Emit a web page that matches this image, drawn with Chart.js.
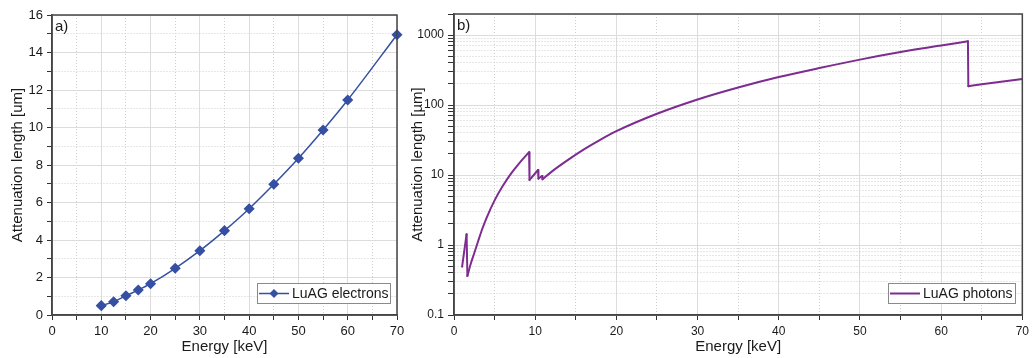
<!DOCTYPE html>
<html>
<head>
<meta charset="utf-8">
<script src="https://cdn.jsdelivr.net/npm/chart.js@4.4.0/dist/chart.umd.min.js"></script>
<style>
  html, body { margin: 0; padding: 0; background: #fff; }
  #wrap { position: relative; width: 1033px; height: 358px; overflow: hidden; }
  canvas { position: absolute; top: 0; }
  #left { left: 0; }
  #right { left: 400px; }
</style>
</head>
<body>
<div id="wrap">
  <canvas id="left" width="410" height="358"></canvas>
  <canvas id="right" width="633" height="358"></canvas>
</div>
<script>
// a) electrons
const electronEnergy = [10, 12.5, 15, 17.5, 20, 25, 30, 35, 40, 45, 50, 55, 60, 70];
const electronLength = [0.50, 0.71, 1.03, 1.33, 1.67, 2.49, 3.43, 4.50, 5.67, 6.97, 8.36, 9.87, 11.47, 14.95];

// b) photons (edges: Al K, Lu L3/L2/L1, Lu K)
const photonEnergy = [1.0, 1.55, 1.65, 2.0, 2.5, 3.0, 3.5, 4.0, 5.0, 6.0, 7.0, 8.0, 9.25, 9.3,
  10.35, 10.4, 10.85, 10.9, 12, 14, 16, 18, 20, 25, 30, 35, 40, 45, 50, 55, 60, 63.3, 63.35, 65, 70];
const photonLength = [0.49, 1.43, 0.36, 0.51, 0.77, 1.16, 1.72, 2.43, 4.35, 6.95, 10.4, 14.6, 21.2, 8.5,
  11.8, 8.9, 9.7, 8.7, 11.1, 16.3, 23.2, 31.8, 42.3, 75, 120, 178, 251, 338, 446, 571, 711, 815, 186, 198, 236];

const energyTicks = [0, 10, 20, 30, 40, 50, 60, 70];
const electronTicks = [0, 2, 4, 6, 8, 10, 12, 14, 16];
const photonTicks = [0.1, 1, 10, 100, 1000];

const FONT = '"Liberation Sans", Arial, sans-serif';
const TEXT = '#1a1a1a';
const MAJOR = '#dcdcdc', MINOR = '#cfcfcf';
const PURPLE = '#7d2c8f', BLUE = '#3550a3';

const isDecade = v => Math.abs(Math.log10(v) - Math.round(Math.log10(v))) < 1e-6;

// split the photon curve into smooth rising branches and straight edge drops
function photonDatasets() {
  const pts = photonEnergy.map((e, i) => ({ x: e, y: photonLength[i] }));
  const sets = [];
  let run = [pts[0]];
  for (let i = 1; i < pts.length; i++) {
    if (pts[i].y >= pts[i - 1].y) {
      run.push(pts[i]);
    } else {
      sets.push({ data: run, cubicInterpolationMode: 'monotone' });
      sets.push({ data: [pts[i - 1], pts[i]], tension: 0 });
      run = [pts[i]];
    }
  }
  sets.push({ data: run, cubicInterpolationMode: 'monotone' });
  return sets.map((s, i) => Object.assign({
    label: i === 0 ? 'LuAG photons' : '',
    borderColor: PURPLE, backgroundColor: PURPLE,
    pointRadius: 0, borderWidth: 2,
    borderCapStyle: 'round', borderJoinStyle: 'round'
  }, s));
}

function diamond(ctx, x, y, r) {
  ctx.beginPath();
  ctx.moveTo(x, y - r); ctx.lineTo(x + r, y); ctx.lineTo(x, y + r); ctx.lineTo(x - r, y);
  ctx.closePath(); ctx.fill();
}

const framePlugin = {
  id: 'frame',
  afterDraw(chart, args, opts) {
    const ctx = chart.ctx, a = chart.chartArea;
    ctx.save();
    ctx.strokeStyle = '#444';
    ctx.lineWidth = 1.5;
    ctx.strokeRect(a.left, a.top, a.right - a.left, a.bottom - a.top);

    ctx.fillStyle = TEXT;
    ctx.font = '15px ' + FONT;
    ctx.textAlign = 'left';
    ctx.textBaseline = 'middle';
    ctx.fillText(opts.panel, a.left + 3, a.top + 12);

    // legend box, bottom right inside the plot
    const ds = chart.data.datasets[0];
    ctx.font = '14px ' + FONT;
    const tw = ctx.measureText(ds.label).width;
    const w = Math.round(34 + tw + 3), h = 20;
    const x = Math.round(a.right - 7 - w), y = Math.round(a.bottom - 12 - h);
    ctx.fillStyle = '#fff';
    ctx.fillRect(x, y, w, h);
    ctx.strokeStyle = '#8a8a8a';
    ctx.lineWidth = 1;
    ctx.strokeRect(x + 0.5, y + 0.5, w, h);
    const my = y + h / 2 + 0.5;
    ctx.strokeStyle = ds.borderColor;
    ctx.lineWidth = ds.borderWidth;
    ctx.beginPath(); ctx.moveTo(x + 2, my); ctx.lineTo(x + 32, my); ctx.stroke();
    if (ds.pointRadius) {
      ctx.fillStyle = ds.pointBackgroundColor;
      diamond(ctx, x + 17, my, ds.pointRadius);
    }
    ctx.fillStyle = TEXT;
    ctx.fillText(ds.label, x + 35, my + 1);
    ctx.restore();
  }
};

function energyAxis(fontSize) {
  return {
    type: 'linear', min: 0, max: 70,
    afterFit: s => { s.height = 43; },
    ticks: {
      stepSize: 5, autoSkip: false, maxRotation: 0, padding: 4,
      color: TEXT, font: { family: FONT, size: fontSize },
      callback: v => energyTicks.includes(v) ? String(v) : ''
    },
    grid: {
      color: c => c.tick && !energyTicks.includes(c.tick.value) ? MINOR : MAJOR,
      tickColor: '#333', tickLength: 5, lineWidth: 1
    },
    border: { color: '#444', width: 1.5, dash: c => c.tick && !energyTicks.includes(c.tick.value) ? [1, 2] : [] },
    title: { display: true, text: 'Energy [keV]', color: TEXT, font: { family: FONT, size: 15 }, padding: { top: 0, bottom: 2 } }
  };
}

new Chart(document.getElementById('left'), {
  type: 'line',
  data: {
    datasets: [{
      label: 'LuAG electrons',
      data: electronEnergy.map((e, i) => ({ x: e, y: electronLength[i] })),
      borderColor: BLUE,
      backgroundColor: BLUE,
      pointBackgroundColor: BLUE,
      pointBorderColor: BLUE,
      pointStyle: 'rectRot',
      pointRadius: 4.5,
      borderWidth: 1.5,
      cubicInterpolationMode: 'monotone',
      clip: false
    }]
  },
  options: {
    responsive: false,
    animation: false,
    layout: { padding: { top: 15, right: 13, left: 0, bottom: 0 } },
    plugins: { legend: { display: false }, tooltip: { enabled: false }, frame: { panel: 'a)' } },
    scales: {
      x: energyAxis(13),
      y: {
        type: 'linear', min: 0, max: 16,
        afterFit: s => { s.width = 52; },
        ticks: {
          stepSize: 1, autoSkip: false, padding: 4,
          color: TEXT, font: { family: FONT, size: 13 },
          callback: v => electronTicks.includes(v) ? String(v) : ''
        },
        grid: {
          color: c => c.tick && !electronTicks.includes(c.tick.value) ? MINOR : MAJOR,
          tickColor: '#333', tickLength: 5
        },
        border: { color: '#444', width: 1.5, dash: c => c.tick && !electronTicks.includes(c.tick.value) ? [1, 2] : [] },
        title: { display: true, text: 'Attenuation length [um]', color: TEXT, font: { family: FONT, size: 15 }, padding: { top: 9, bottom: 0 } }
      }
    }
  },
  plugins: [framePlugin]
});

new Chart(document.getElementById('right'), {
  type: 'line',
  data: { datasets: photonDatasets() },
  options: {
    responsive: false,
    animation: false,
    layout: { padding: { top: 14, right: 8, left: 0, bottom: 0 } },
    plugins: { legend: { display: false }, tooltip: { enabled: false }, frame: { panel: 'b)' } },
    scales: {
      x: energyAxis(12),
      y: {
        type: 'logarithmic', min: 0.1, max: 2000,
        afterFit: s => { s.width = 54; },
        afterBuildTicks: s => {
          const vals = [];
          photonTicks.forEach(d => {
            for (let k = 1; k <= 9; k++) {
              const v = +(k * d).toPrecision(3);
              if (v <= 2000) vals.push({ value: v });
            }
          });
          s.ticks = vals;
        },
        ticks: {
          autoSkip: false, padding: 4,
          color: TEXT, font: { family: FONT, size: 12 },
          callback: v => isDecade(v) ? String(v) : ''
        },
        grid: {
          color: c => c.tick && !isDecade(c.tick.value) ? MINOR : MAJOR,
          tickColor: '#333', tickLength: 6
        },
        border: { color: '#444', width: 1.5, dash: c => c.tick && !isDecade(c.tick.value) ? [1, 2] : [] },
        title: { display: true, text: 'Attenuation length [µm]', color: TEXT, font: { family: FONT, size: 15 }, padding: { top: 9, bottom: 0 } }
      }
    }
  },
  plugins: [framePlugin]
});
</script>
</body>
</html>
